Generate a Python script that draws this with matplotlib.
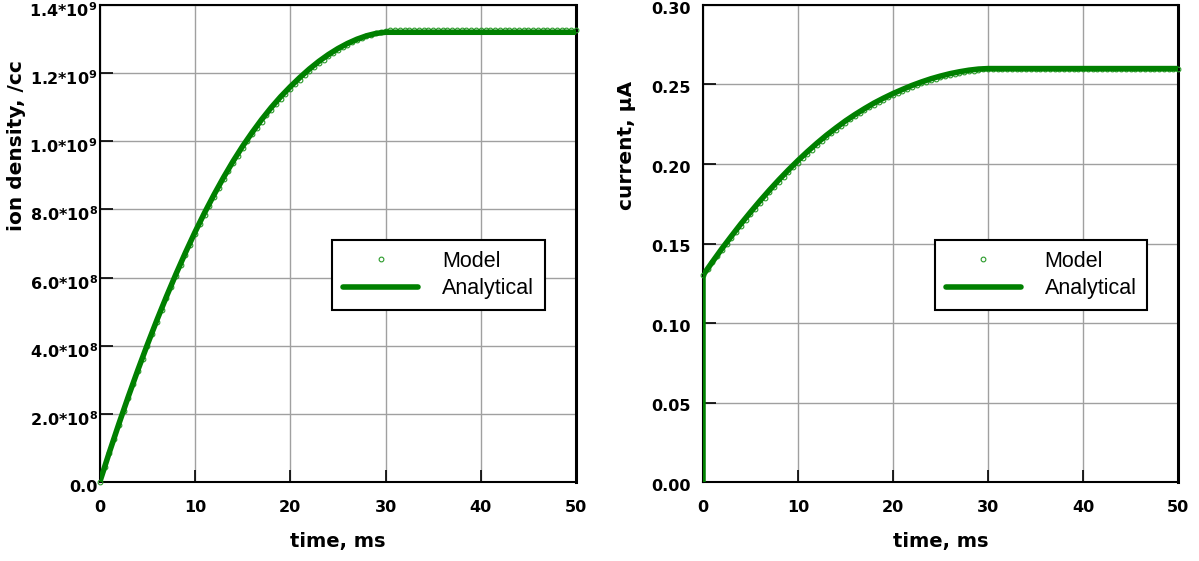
import numpy as np
import matplotlib
matplotlib.use("Agg")
import matplotlib.pyplot as plt
from matplotlib.transforms import ScaledTranslation

plt.rcParams["font.family"] = ["DejaVu Sans"]
plt.rcParams["mathtext.fontset"] = "dejavusans"
plt.rcParams["mathtext.default"] = "bf"

# ---- data ----
# analytical curves, 1 ms steps up to 30 ms, then flat to 50 ms
t_an = list(range(31)) + [50]
dens_an = [0.0, 0.0865, 0.1701, 0.2508, 0.3286, 0.4034, 0.4753, 0.5442, 0.6102, 0.6733,
           0.7335, 0.7900, 0.8435, 0.8940, 0.9415, 0.9855, 1.0260, 1.0640, 1.0990, 1.1310,
           1.1600, 1.1870, 1.2120, 1.2345, 1.2545, 1.2720, 1.2870, 1.2995, 1.3095, 1.3165,
           1.3200, 1.3200]  # *1e9 /cc
cur_an = [0.1300, 0.1385, 0.1468, 0.1547, 0.1624, 0.1697, 0.1768, 0.1836, 0.1901, 0.1963,
          0.2022, 0.2078, 0.2131, 0.2181, 0.2227, 0.2271, 0.2311, 0.2348, 0.2383, 0.2414,
          0.2443, 0.2469, 0.2494, 0.2516, 0.2536, 0.2553, 0.2568, 0.2580, 0.2590, 0.2597,
          0.2600, 0.2600]  # uA

# model output, 0.5 ms steps
t_mod = np.arange(0, 50.01, 0.5)
dens_mod = [0.000, 0.043, 0.085, 0.127, 0.168, 0.208, 0.248, 0.287, 0.325, 0.362,
            0.399, 0.435, 0.470, 0.505, 0.539, 0.572, 0.605, 0.636, 0.667, 0.697,
            0.727, 0.756, 0.784, 0.811, 0.837, 0.863, 0.888, 0.912, 0.935, 0.957,
            0.979, 1.000, 1.020, 1.039, 1.058, 1.076, 1.093, 1.109, 1.125, 1.140,
            1.154, 1.168, 1.181, 1.194, 1.206, 1.218, 1.229, 1.240, 1.250, 1.259,
            1.268, 1.276, 1.284, 1.291, 1.297, 1.303, 1.308, 1.313, 1.317, 1.321,
            1.324] + [1.327] * 40
cur_mod = [0.1300, 0.1341, 0.1381, 0.1421, 0.1460, 0.1499, 0.1537, 0.1575, 0.1612, 0.1648,
           0.1684, 0.1719, 0.1754, 0.1788, 0.1821, 0.1854, 0.1886, 0.1917, 0.1948, 0.1978,
           0.2007, 0.2036, 0.2064, 0.2091, 0.2117, 0.2143, 0.2168, 0.2192, 0.2215, 0.2238,
           0.2260, 0.2281, 0.2301, 0.2320, 0.2338, 0.2356, 0.2373, 0.2389, 0.2405, 0.2420,
           0.2434, 0.2448, 0.2461, 0.2474, 0.2486, 0.2497, 0.2508, 0.2518, 0.2528, 0.2537,
           0.2546, 0.2554, 0.2561, 0.2568, 0.2574, 0.2579, 0.2584, 0.2588, 0.2592, 0.2596,
           0.2599] + [0.2600] * 40

x_ticks = [0, 10, 20, 30, 40, 50]
dens_ticks = [0, 0.2, 0.4, 0.6, 0.8, 1.0, 1.2, 1.4]
dens_labels = ["0.0", "2.0*10$^8$", "4.0*10$^8$", "6.0*10$^8$", "8.0*10$^8$",
               "1.0*10$^9$", "1.2*10$^9$", "1.4*10$^9$"]
cur_ticks = [0.0, 0.05, 0.10, 0.15, 0.20, 0.25, 0.30]
cur_labels = ["0.00", "0.05", "0.10", "0.15", "0.20", "0.25", "0.30"]

green = "#008000"

fig = plt.figure(figsize=(11.99, 5.61), dpi=100)
ax1 = fig.add_axes([0.0832, 0.1408, 0.3972, 0.8503])
ax2 = fig.add_axes([0.5863, 0.1408, 0.3962, 0.8503])


def style(ax, yticks, ylabels, ylim, ylabel, ypad, ylab_x):
    ax.set_xlim(0, 50)
    ax.set_ylim(*ylim)
    ax.set_xticks(x_ticks)
    ax.set_xticklabels([str(v) for v in x_ticks], fontsize=11.5, fontweight="bold")
    ax.set_yticks(yticks)
    ax.set_yticklabels(ylabels, fontsize=11.5, fontweight="bold")
    ax.tick_params(direction="in", length=9, width=1.2)
    ax.tick_params(axis="x", pad=13)
    ax.tick_params(axis="y", pad=ypad)
    ax.grid(True, color="#a0a0a0", lw=1)
    ax.set_axisbelow(True)
    for s in ax.spines.values():
        s.set_linewidth(1.5)
    ax.spines["right"].set_linewidth(2.2)
    ax.set_xlabel("time, ms", fontsize=14, fontweight="bold")
    ax.xaxis.set_label_coords(0.5, -0.105)
    ax.set_ylabel(ylabel, fontsize=14.5, fontweight="bold")
    ax.yaxis.set_label_coords(ylab_x, 0.705)


# left: ion density
ax1.plot(t_mod, dens_mod, "o", ms=3.4, mfc="none", mec="#2a9a2a", mew=0.8,
         label="Model", clip_on=False, zorder=3)
ax1.plot(t_an, dens_an, "-", color=green, lw=4.0, label="Analytical",
         solid_capstyle="round", zorder=4)
style(ax1, dens_ticks, dens_labels, (0, 1.4), "ion density, /cc", 1.5, -0.155)
for lab in ax1.get_yticklabels():
    lab.set_transform(lab.get_transform() + ScaledTranslation(0, -3 / 72, fig.dpi_scale_trans))

# right: current
ax2.plot(t_mod, cur_mod, "o", ms=3.4, mfc="none", mec="#2a9a2a", mew=0.8,
         label="Model", clip_on=False, zorder=3)
ax2.plot([0] + t_an, [0.0] + cur_an, "-", color=green, lw=4.0, label="Analytical",
         solid_capstyle="round", zorder=4)
ax2.plot([0, 0], [0.0, 0.13], "-", color=green, lw=2.2)
style(ax2, cur_ticks, cur_labels, (0, 0.30), "current, μA", 9, -0.141)
for lab in ax2.get_yticklabels():
    lab.set_transform(lab.get_transform() + ScaledTranslation(0, -2 / 72, fig.dpi_scale_trans))

for ax in (ax1, ax2):
    leg = ax.legend(loc="upper left", bbox_to_anchor=(0.488, 0.507), borderaxespad=0,
                    prop={"family": "Liberation Sans", "size": 15.5},
                    handlelength=3.5, fancybox=False, framealpha=1,
                    edgecolor="black", handletextpad=1.1, labelspacing=0.3,
                    borderpad=0.5)
    leg.get_frame().set_linewidth(1.5)

fig.savefig("out.png", dpi=100)
